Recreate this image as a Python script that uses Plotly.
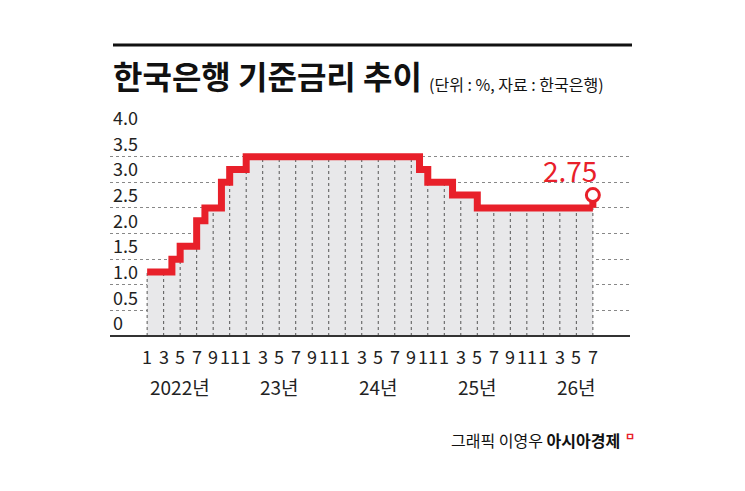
import plotly.graph_objects as go

# data
change_idx = [0, 3, 4, 6, 7, 9, 10, 12, 33, 34, 37, 40, 54]   # months since Jan 2022
change_val = [1.25, 1.5, 1.75, 2.25, 2.5, 3.0, 3.25, 3.5, 3.25, 3.0, 2.75, 2.5, 2.75]
month_labels = ["1","3","5","7","9","11"]*4 + ["1","3","5","7"]
year_labels = ["2022년", "23년", "24년", "25년", "26년"]
year_pos = [4, 16, 28, 40, 52]
ytick_vals = [0, 0.5, 1.0, 1.5, 2.0, 2.5, 3.0, 3.5, 4.0]
ytick_text = ["0","0.5","1.0","1.5","2.0","2.5","3.0","3.5","4.0"]
last_label = "2.75"

months = list(range(0, 55))
vals = []
cur = None
for m in months:
    if m in change_idx:
        cur = change_val[change_idx.index(m)]
    vals.append(cur)
line_x = months
line_y = vals[:-1] + [vals[-2]]

OFF = 8  # page body margin
W, H = 745, 491
L, R, T, B = 110 - OFF, 115 + OFF, 131 - OFF, 155 + OFF
PW, PH = W - L - R, H - T - B
def px(x): return (x - OFF - L) / PW
def py(y): return (H - B - (y - OFF)) / PH

FONT = "Noto Sans CJK KR"
fig = go.Figure()
fig.add_trace(go.Scatter(x=line_x, y=line_y, mode="lines", line=dict(shape="hv", width=0),
                         fill="tozeroy", fillcolor="#e8e8ea", hoverinfo="skip"))
vx, vy = [], []
for m in range(0, 55, 2):
    vx += [m, m, None]
    vy += [0, line_y[m], None]
fig.add_trace(go.Scatter(x=vx, y=vy, mode="lines", line=dict(color="#555", width=1, dash="dot"),
                         hoverinfo="skip"))
fig.add_trace(go.Scatter(x=line_x, y=line_y, mode="lines", line=dict(shape="hv", color="#e8202a", width=7)))
fig.add_trace(go.Scatter(x=[54, 54], y=[vals[-2], vals[-1]], mode="lines",
                         line=dict(color="#e8202a", width=7)))
fig.add_trace(go.Scatter(x=[54], y=[vals[-1]], mode="markers",
                         marker=dict(size=13, color="white", line=dict(color="#e8202a", width=3))))

def A(**k):
    k.setdefault("showarrow", False)
    k.setdefault("xanchor", "center")
    k.setdefault("yanchor", "middle")
    return k

ann = []
for v, t in zip(ytick_vals, ytick_text):
    ann.append(A(x=px(111), xref="paper", y=(v + 0.27) / 4.0, yref="paper", text=t,
                 xanchor="left", font=dict(size=18, color="#222", family=FONT)))
for i, t in enumerate(month_labels):
    ann.append(A(x=i*2, y=py(356), xref="x", yref="paper", text=t,
                 font=dict(size=18, color="#222", family=FONT)))
for p, t in zip(year_pos, year_labels):
    ann.append(A(x=p, y=py(386), xref="x", yref="paper", text=t,
                 font=dict(size=19, color="#222", family=FONT)))
ann.append(A(x=54.8, y=py(170), xref="x", yref="paper", text=last_label, xanchor="right",
             font=dict(size=28, color="#e8202a", family=FONT)))
ann.append(A(x=px(111), y=py(75), xref="paper", yref="paper", text="<b>한국은행 기준금리 추이</b>",
             xanchor="left", font=dict(size=32, color="#111", family=FONT)))
ann.append(A(x=px(427), y=py(84), xref="paper", yref="paper", text="(단위 : %, 자료 : 한국은행)",
             xanchor="left", font=dict(size=16, color="#111", family=FONT)))
ann.append(A(x=px(622), y=py(440), xref="paper", yref="paper",
             text="그래픽 이영우 <b>아시아경제</b>",
             xanchor="right", font=dict(size=16, color="#111", family=FONT)))
ann.append(A(x=px(623), y=py(436), xref="paper", yref="paper", text="<b>ㅁ</b>",
             xanchor="left", font=dict(size=11, color="#e8202a", family=FONT)))

fig.update_layout(
    width=W, height=H, margin=dict(l=L, r=R, t=T, b=B, autoexpand=False),
    paper_bgcolor="white", plot_bgcolor="white", showlegend=False, annotations=ann,
    xaxis=dict(range=[-4.5, 58.5], showticklabels=False, showgrid=False, zeroline=False),
    yaxis=dict(range=[0, 4.0], tickvals=ytick_vals, showticklabels=False, showgrid=True,
               gridcolor="#888", griddash="dot", gridwidth=1, zeroline=False, showline=False),
    shapes=[dict(type="line", xref="paper", yref="paper", x0=0, x1=1, y0=0, y1=0,
                 line=dict(color="#333", width=2)),
            dict(type="line", xref="paper", yref="paper", x0=px(113), x1=px(632),
                 y0=py(45), y1=py(45), line=dict(color="#111", width=3))],
)
fig.write_html("out.html")
